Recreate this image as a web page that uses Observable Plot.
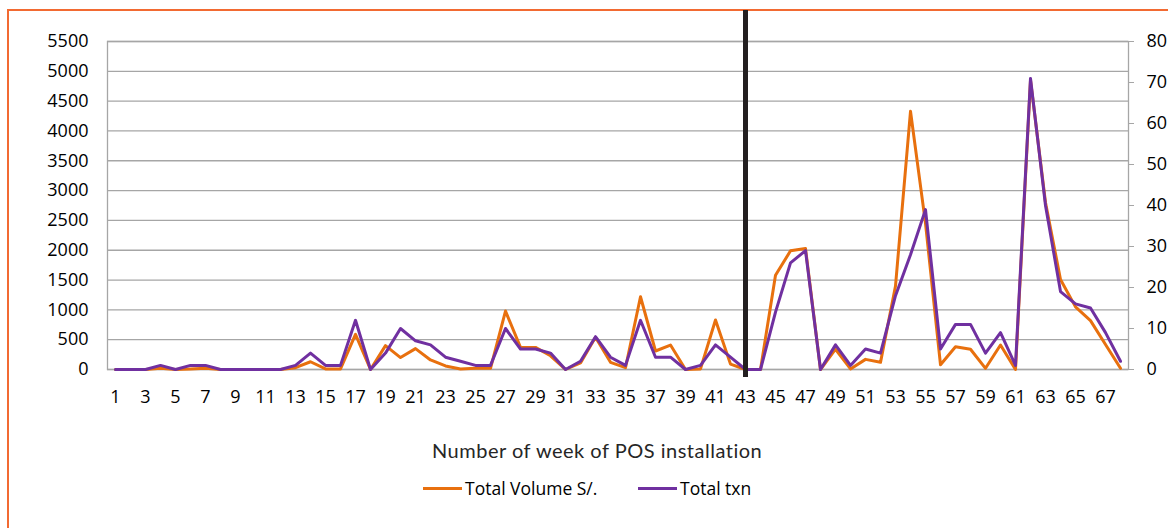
<!DOCTYPE html>
<html><head><meta charset="utf-8">
<script src="https://cdn.jsdelivr.net/npm/d3@7"></script>
<script src="https://cdn.jsdelivr.net/npm/@observablehq/plot@0.6"></script>
<style>
html,body{margin:0;padding:0;background:#fff;overflow:hidden;width:1168px;height:528px}
#wrap{position:relative;width:1168px;height:528px}
#border{position:absolute;left:7px;top:9px;width:1300px;height:700px;border:2px solid #f26a32;box-sizing:border-box}
#chart{position:absolute;left:0;top:0}
#xtitle{position:absolute;top:438px;left:432px;font-family:Lato,sans-serif;font-size:20px;letter-spacing:0.5px;color:#262626;white-space:nowrap}
.leg{position:absolute;top:476px;font-family:"Open Sans",sans-serif;font-size:17.5px;color:#000;white-space:nowrap;display:flex;align-items:center}
.leg span.sw{display:inline-block;width:39px;height:3px;margin-right:3px}
</style></head>
<body><div id="wrap"><div id="border"></div><div id="chart"></div>
<div id="xtitle"></div>
<div class="leg" id="leg1" style="left:423px"></div>
<div class="leg" id="leg2" style="left:638px"></div>
</div>
<script>
const weeks = [1,2,3,4,5,6,7,8,9,10,11,12,13,14,15,16,17,18,19,20,21,22,23,24,25,26,27,28,29,30,31,32,33,34,35,36,37,38,39,40,41,42,43,44,45,46,47,48,49,50,51,52,53,54,55,56,57,58,59,60,61,62,63,64,65,66,67,68];
const volume = [0,0,0,20,0,10,20,0,0,0,0,0,30,130,10,10,590,0,400,200,350,160,60,10,20,20,980,370,370,230,0,110,540,120,30,1220,310,410,0,10,830,90,0,0,1580,1990,2030,0,340,10,170,120,1400,4330,2450,80,380,340,20,410,0,4850,2800,1510,1050,820,420,20];
const txn = [0,0,0,1,0,1,1,0,0,0,0,0,1,4,1,1,12,0,4,10,7,6,3,2,1,1,10,5,5,4,0,2,8,3,1,12,3,3,0,1,6,3,0,0,14,26,29,0,6,1,5,4,18,28,39,5,11,11,4,9,1,71,40,19,16,15,9,2];
const xTicks = [1,3,5,7,9,11,13,15,17,19,21,23,25,27,29,31,33,35,37,39,41,43,45,47,49,51,53,55,57,59,61,63,65,67];
const leftTicks = [0,500,1000,1500,2000,2500,3000,3500,4000,4500,5000,5500];
const rightTicks = [0,10,20,30,40,50,60,70,80];
const dividerWeek = 43;
const seriesNames = ["Total Volume S/.", "Total txn"];
const xTitle = "Number of week of POS installation";
const colors = ["#e8700e", "#7030a0"];

const leftMax = leftTicks[leftTicks.length-1];
const rightMax = rightTicks[rightTicks.length-1];
const ratio = leftMax / rightMax;
const rows = weeks.map((w,i)=>({week:w, volume:volume[i], txn:txn[i]}));

const chart = Plot.plot({
  width: 1168, height: 528,
  marginLeft: 107, marginRight: 40, marginTop: 41, marginBottom: 159,
  style: {fontFamily: "'Open Sans', sans-serif", fontSize: "18px", color: "#000", background: "transparent"},
  x: {type: "point", domain: weeks, padding: 0.5},
  y: {domain: [0, leftMax]},
  marks: [
    Plot.gridY(leftTicks, {stroke: "#a6a6a6", strokeOpacity: 1, strokeWidth: 1.3}),
    Plot.frame({stroke: "#a6a6a6", strokeWidth: 1.3}),
    Plot.axisX({ticks: xTicks, tickSize: 0, tickPadding: 21, label: null}),
    Plot.axisY({ticks: leftTicks, tickSize: 0, tickPadding: 19, label: null, tickFormat: d => String(d)}),
    Plot.axisY(rightTicks.map(v => v*ratio), {anchor: "right", tickSize: 5, tickPadding: 13, stroke: "#a6a6a6", label: null, tickFormat: d => String(Math.round(d/ratio))}),
    Plot.line(rows, {x: "week", y: "volume", stroke: colors[0], strokeWidth: 3, strokeLinejoin: "round"}),
    Plot.line(rows, {x: "week", y: d => d.txn*ratio, stroke: colors[1], strokeWidth: 3, strokeLinejoin: "round"}),
    Plot.ruleX([dividerWeek], {stroke: "#231f20", strokeWidth: 5, insetTop: -31, insetBottom: -8})
  ]
});
document.getElementById("chart").appendChild(chart);
document.getElementById("xtitle").textContent = xTitle;
[["leg1",0],["leg2",1]].forEach(([id,i])=>{
  const el = document.getElementById(id);
  const sw = document.createElement("span"); sw.className="sw"; sw.style.background=colors[i];
  el.appendChild(sw);
  el.appendChild(document.createTextNode(seriesNames[i]));
});
</script></body></html>
